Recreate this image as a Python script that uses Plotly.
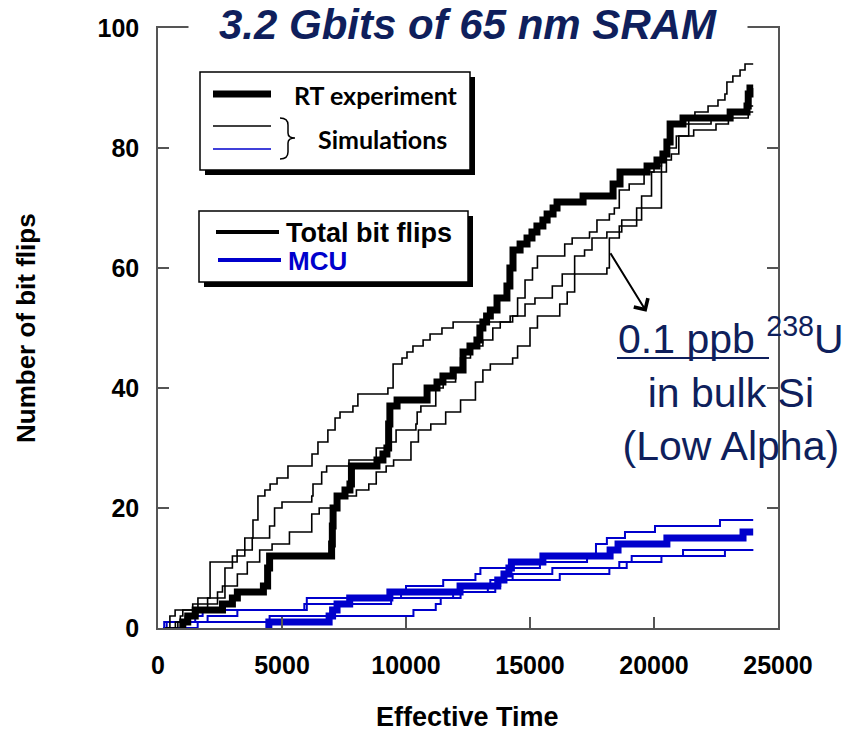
import plotly.graph_objects as go

# ---------------------------------------------------------------
# Cumulative bit-flip counts vs. effective time (step curves).
# Each *_t list holds the effective time at which the count in the
# matching *_n list is reached.
# ---------------------------------------------------------------

# Room-temperature experiment: total bit flips
rt_total_t = [890, 1000, 1200, 1500, 2600, 3000, 3200, 4250, 4420, 4500, 7000, 7030,
              7060, 7220, 7540, 7740, 7800, 8830, 9070, 9230, 9300, 9350, 9640, 10850,
              11250, 11490, 11900, 12300, 12580, 12860, 12980, 13100, 13250, 13400,
              13670, 14070, 14190, 14315, 14600, 14880, 15080, 15280, 15520, 15690,
              15930, 16090, 17140, 18350, 18630, 19720, 20120, 20360, 20520, 20650,
              21170, 23070, 23750, 23800, 23870, 24000]
rt_total_n = [0, 1, 2, 3, 4, 5, 6, 7, 10, 12, 14, 17,
              20, 22, 23, 24, 27, 28, 29, 30, 34, 37, 38, 40,
              41, 42, 43, 46, 47, 48, 50, 51, 52, 53,
              55, 57, 60, 63, 64, 65, 66, 67, 68, 69,
              70, 71, 72, 74, 76, 77, 78, 79, 81, 84,
              85, 86, 87, 89, 90, 90]

# Room-temperature experiment: MCU
rt_mcu_t = [4430, 4470, 6900, 7040, 7220, 7730, 9350, 12180, 13700, 13950, 14150,
            14250, 15520, 18230, 18550, 20520, 23590, 24000]
rt_mcu_n = [0, 1, 2, 3, 4, 5, 6, 7, 8, 9, 10,
            11, 12, 13, 14, 15, 16, 16]

# Simulations: total bit flips
sim1_t = [280, 480, 690, 1610, 2100, 3190, 3500, 3830, 4030, 4310, 4520, 4800, 5240,
          6210, 6450, 6850, 7140, 7340, 7860, 8060, 9270, 9480, 9840, 10040, 10280,
          10690, 10970, 11450, 11900, 14300, 14500, 14800, 15100, 15300, 16400, 16700,
          17400, 17700, 18200, 18400, 18600, 19000, 19600, 20000, 20300, 20600, 20700,
          21400, 21650, 22180, 22580, 22860, 22940, 23180, 23470, 23670, 24000]
sim1_n = [0, 2, 3, 5, 11, 13, 15, 18, 22, 23, 24, 25, 27,
          29, 31, 33, 35, 36, 37, 39, 40, 44, 45, 46, 47,
          48, 49, 50, 51, 52, 55, 58, 60, 62, 64, 65,
          66, 68, 69, 70, 73, 74, 76, 77, 79, 82, 84,
          85, 86, 87, 88, 89, 91, 92, 93, 94, 94]

sim2_t = [300, 800, 900, 1000, 1400, 2400, 2600, 2700, 3000, 3500, 3800, 4500, 4700,
          5000, 6200, 6250, 6600, 6800, 7700, 8800, 9400, 9600, 10400, 10450, 10600,
          11200, 11500, 12000, 12200, 12600, 13100, 13500, 13800, 14200, 14800, 15200,
          15900, 16300, 16800, 17200, 17500, 18100, 18700, 19500, 19900, 20500, 20900,
          21400, 22300, 23100, 23800, 24000]
sim2_n = [0, 1, 2, 3, 4, 6, 7, 10, 12, 13, 15, 17, 20,
          21, 22, 24, 26, 27, 28, 30, 31, 33, 34, 36, 37,
          40, 41, 43, 45, 47, 48, 50, 51, 52, 54, 55,
          57, 59, 62, 63, 65, 66, 68, 72, 76, 80, 82,
          84, 85, 86, 87, 87]

sim3_t = [600, 700, 1100, 1600, 2000, 2700, 3200, 3600, 4100, 4600, 5300, 6200, 6500,
          7300, 8000, 8500, 8800, 9200, 9500, 10200, 10500, 11000, 11600, 12200, 12800,
          13100, 13400, 14300, 14500, 15000, 15300, 16200, 16500, 16800, 18100, 18200,
          18600, 19300, 20300, 20700, 21000, 21600, 22500, 23000, 23800, 24000]
sim3_n = [0, 1, 2, 3, 5, 7, 9, 11, 13, 14, 16, 19, 20,
          22, 23, 24, 26, 27, 28, 31, 33, 34, 36, 38, 41,
          43, 44, 45, 47, 50, 52, 54, 56, 59, 60, 65,
          67, 70, 78, 79, 82, 83, 84, 85, 86, 86]

# Simulations: MCU
mcu1_t = [300, 350, 1500, 1800, 5900, 6000, 9800, 10000, 11500, 12800, 13000, 15400,
          17300, 17660, 18100, 18830, 20040, 22660, 24000]
mcu1_n = [0, 1, 2, 3, 4, 5, 6, 7, 8, 9, 10, 11,
          12, 14, 15, 16, 17, 18, 18]

mcu2_t = [200, 250, 4500, 10300, 11200, 11400, 12200, 13600, 13800, 16200, 18200,
          18900, 20300, 21170, 24000]
mcu2_n = [0, 1, 2, 3, 4, 5, 6, 7, 8, 9, 10,
          11, 12, 13, 13]

mcu3_t = [400, 1600, 2000, 3200, 6000, 9400, 11900, 13300, 13400, 14300, 15900, 18600,
          19100, 22860, 24000]
mcu3_n = [0, 1, 2, 3, 4, 5, 6, 7, 8, 9, 10, 11,
          12, 13, 13]

x_ticks = [0, 5000, 10000, 15000, 20000, 25000]
y_ticks = [0, 20, 40, 60, 80, 100]

BLACK = "#000000"
BLUE = "#0000cc"
NAVY = "#0f1f5c"
AXIS = "#555555"

W, H = 846, 731
L, R, T, B = 158, 68, 28, 103
PW, PH = W - L - R, H - T - B


def fx(p):
    """pixel column -> paper x"""
    return (p - L) / PW


def fy(p):
    """pixel row -> paper y"""
    return (H - B - p) / PH


fig = go.Figure()

# thin simulation curves first, experiment on top
for t, n in [(mcu1_t, mcu1_n), (mcu2_t, mcu2_n), (mcu3_t, mcu3_n)]:
    fig.add_trace(go.Scatter(x=t, y=n, mode="lines",
                             line=dict(shape="hv", color=BLUE, width=2)))
for t, n in [(sim1_t, sim1_n), (sim2_t, sim2_n), (sim3_t, sim3_n)]:
    fig.add_trace(go.Scatter(x=t, y=n, mode="lines",
                             line=dict(shape="hv", color=BLACK, width=1.6)))
fig.add_trace(go.Scatter(x=rt_mcu_t, y=rt_mcu_n, mode="lines",
                         line=dict(shape="hv", color=BLUE, width=7)))
fig.add_trace(go.Scatter(x=rt_total_t, y=rt_total_n, mode="lines",
                         line=dict(shape="hv", color=BLACK, width=7)))

axis_common = dict(showline=True, linecolor=AXIS, linewidth=1.5, mirror="ticks",
                   ticks="inside", ticklen=11, tickwidth=1.5, tickcolor=AXIS,
                   showgrid=False, zeroline=False,
                   tickfont=dict(family="Liberation Sans, Arial", size=25,
                                 color=BLACK, weight="bold"))

fig.update_xaxes(range=[0, 25000], tickvals=x_ticks,
                 ticktext=[str(v) for v in x_ticks], ticklabelstandoff=14,
                 **axis_common)
fig.update_yaxes(range=[0, 100], tickvals=y_ticks,
                 ticktext=[str(v) for v in y_ticks], ticklabelstandoff=12,
                 **axis_common)

shapes = []
# legend boxes with drop shadow
for (x0, y0, x1, y1) in [(200, 72, 470, 170), (199, 211, 468, 282)]:
    shapes.append(dict(type="rect", xref="paper", yref="paper",
                       x0=fx(x0 + 5), x1=fx(x1 + 5), y0=fy(y1 + 5), y1=fy(y0 + 5),
                       fillcolor=BLACK, line=dict(width=0), layer="above"))
    shapes.append(dict(type="rect", xref="paper", yref="paper",
                       x0=fx(x0), x1=fx(x1), y0=fy(y1), y1=fy(y0),
                       fillcolor="white", line=dict(color=BLACK, width=1.5),
                       layer="above"))

# legend sample lines
for (x0, x1, yy, col, w) in [(213, 271, 94, BLACK, 7), (213, 271, 126, BLACK, 1.5),
                             (213, 271, 149, BLUE, 1.5), (216, 279, 232, BLACK, 4),
                             (218, 281, 260, BLUE, 4)]:
    shapes.append(dict(type="line", xref="paper", yref="paper",
                       x0=fx(x0), x1=fx(x1), y0=fy(yy), y1=fy(yy),
                       line=dict(color=col, width=w), layer="above"))

# underline beneath "0.1 ppb" in the isotope note
shapes.append(dict(type="line", xref="paper", yref="paper",
                   x0=fx(617), x1=fx(769), y0=fy(358), y1=fy(358),
                   line=dict(color=NAVY, width=2), layer="above"))

# curly brace grouping the two simulation samples
pts = [("M", 280, 118), ("Q", 288, 118, 288, 125), ("L", 288, 133),
       ("Q", 288, 138, 295, 138), ("Q", 288, 138, 288, 143), ("L", 288, 152),
       ("Q", 288, 159, 280, 159)]
path = ""
for p in pts:
    cmd = p[0]
    coords = p[1:]
    seg = []
    for i in range(0, len(coords), 2):
        seg.append(f"{fx(coords[i]):.5f},{fy(coords[i + 1]):.5f}")
    path += cmd + " " + " ".join(seg) + " "
shapes.append(dict(type="path", xref="paper", yref="paper", path=path.strip(),
                   line=dict(color=BLACK, width=1.5), layer="above"))

annotations = [
    # title, on a white band that interrupts the top frame line
    dict(xref="paper", yref="paper", x=fx(468), y=fy(24), xanchor="center",
         yanchor="middle", showarrow=False, bgcolor="white", width=556, height=44,
         text="<b><i>3.2 Gbits of 65 nm SRAM</i></b>",
         font=dict(family="Liberation Sans, Arial", size=42, color=NAVY)),
    dict(xref="paper", yref="paper", x=fx(292), y=fy(95), xanchor="left",
         yanchor="middle", showarrow=False, text="<b>RT experiment</b>",
         font=dict(family="Lato, Open Sans", size=25, color=BLACK)),
    dict(xref="paper", yref="paper", x=fx(316), y=fy(139), xanchor="left",
         yanchor="middle", showarrow=False, text="<b>Simulations</b>",
         font=dict(family="Lato, Open Sans", size=25, color=BLACK)),
    dict(xref="paper", yref="paper", x=fx(284), y=fy(233), xanchor="left",
         yanchor="middle", showarrow=False, text="<b>Total bit flips</b>",
         font=dict(family="Liberation Sans, Arial", size=27, color=BLACK)),
    dict(xref="paper", yref="paper", x=fx(286), y=fy(261), xanchor="left",
         yanchor="middle", showarrow=False, text="<b>MCU</b>",
         font=dict(family="Liberation Sans, Arial", size=26, color=BLUE)),
    # isotope note
    dict(xref="paper", yref="paper", x=fx(731), y=fy(389), xanchor="center",
         yanchor="middle", showarrow=False, align="center",
         text="0.1 ppb <sup>238</sup>U<br>in bulk Si<br>(Low Alpha)",
         font=dict(family="Liberation Sans, Arial", size=41, color=NAVY)),
    # arrow pointing at the simulation curves
    dict(x=19700, y=52.7, xref="x", yref="y", ax=-37, ay=-60, text="",
         showarrow=True, arrowhead=4, arrowsize=1.6, arrowwidth=2,
         arrowcolor=BLACK),
    # axis titles
    dict(xref="paper", yref="paper", x=fx(467), y=fy(717), xanchor="center",
         yanchor="middle", showarrow=False, text="<b>Effective Time</b>",
         font=dict(family="Liberation Sans, Arial", size=27, color=BLACK)),
    dict(xref="paper", yref="paper", x=fx(26), y=fy(328), xanchor="center",
         yanchor="middle", showarrow=False, textangle=-90,
         text="<b>Number of bit flips</b>",
         font=dict(family="Liberation Sans, Arial", size=26, color=BLACK)),
]

fig.update_layout(width=W, height=H, margin=dict(l=L, r=R, t=T, b=B),
                  paper_bgcolor="white", plot_bgcolor="white", showlegend=False,
                  shapes=shapes, annotations=annotations)

fig.write_html("out.html")
